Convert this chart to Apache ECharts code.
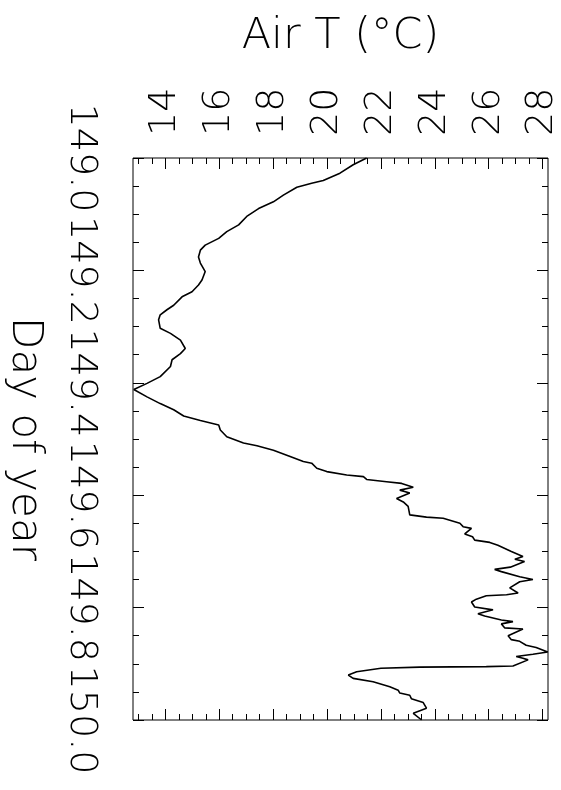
<!DOCTYPE html>
<html>
<head>
<meta charset="utf-8">
<script src="https://cdn.jsdelivr.net/npm/echarts@6/dist/echarts.min.js"></script>
<style>
html,body{margin:0;padding:0;background:#fff;}
#chart{width:561px;height:790px;}
</style>
</head>
<body>
<div id="chart"></div>
<script>
// Day of year (vertical axis) and air temperature (horizontal axis)
const dayOfYear = [
149.000,149.012,149.027,149.040,149.045,149.052,149.066,149.078,149.090,149.104,
149.119,149.131,149.143,149.155,149.164,149.176,149.187,149.202,149.217,149.226,
149.238,149.247,149.262,149.270,149.279,149.288,149.303,149.312,149.324,149.339,
149.348,149.359,149.371,149.389,149.401,149.412,149.425,149.437,149.448,149.459,
149.467,149.475,149.484,149.496,149.507,149.512,149.520,149.531,149.540,149.543,
149.552,149.558,149.564,149.567,149.572,149.576,149.579,149.586,149.591,149.596,
149.606,149.612,149.620,149.635,149.639,149.641,149.650,149.656,149.659,149.669,
149.674,149.680,149.684,149.689,149.700,149.709,149.714,149.718,149.728,149.732,
149.736,149.745,149.750,149.754,149.765,149.774,149.777,149.779,149.785,149.790,
149.799,149.804,149.811,149.815,149.822,149.825,149.829,149.836,149.838,149.850,
149.857,149.860,149.867,149.871,149.879,149.883,149.887,149.890,149.893,149.904,
149.905,149.906,149.908,149.914,149.920,149.926,149.932,149.941,149.947,149.952,
149.956,149.962,149.969,149.979,149.988,150.000
];
const airTemp = [
21.47,20.97,20.48,19.86,19.43,18.88,18.38,18.01,17.46,17.02,
16.72,16.28,15.98,15.48,15.30,15.23,15.30,15.48,15.36,15.23,
14.99,14.62,14.31,14.06,13.81,13.75,13.81,14.19,14.56,14.74,
14.56,14.25,14.19,13.81,13.32,12.83,13.32,13.81,14.31,14.68,
15.30,15.98,16.04,16.28,16.90,17.40,18.01,18.63,19.12,19.43,
19.62,19.99,20.73,21.35,21.47,22.21,22.77,23.20,22.70,23.07,
22.58,22.83,23.01,23.07,23.69,24.31,24.93,25.05,25.36,25.11,
25.40,25.48,26.04,26.34,26.84,27.27,26.97,27.33,26.80,26.22,
26.47,27.15,27.64,27.15,26.78,27.09,26.66,25.91,25.54,25.36,
25.48,26.16,25.60,25.85,26.47,26.90,26.47,26.59,27.27,26.72,
26.84,27.15,27.39,27.76,28.19,27.64,27.02,27.27,27.46,26.90,
25.91,23.44,22.00,21.10,20.79,20.97,21.71,22.33,22.64,22.70,
23.07,23.13,23.57,23.69,23.20,23.51
];
const tempTicks = [14,16,18,20,22,24,26,28];
const tempMinorTicks = [13,13.5,14.5,15,15.5,16.5,17,17.5,18.5,19,19.5,20.5,21,21.5,22.5,23,23.5,24.5,25,25.5,26.5,27,27.5];
const dayTicks = [149.0,149.2,149.4,149.6,149.8,150.0];
const dayMinorTicks = [149.05,149.1,149.15,149.25,149.3,149.35,149.45,149.5,149.55,149.65,149.7,149.75,149.85,149.9,149.95];

const FONT = 'DejaVu Sans';
const lineData = dayOfYear.map((d,i)=>[airTemp[i], d]);

function xAx(pos, values, len, labels, name){
  return {
    type:'value', position:pos, min:12.8, max:28.2,
    axisLine:{show:false}, splitLine:{show:false},
    axisTick:{show:true, inside:true, length:len, customValues:values, lineStyle:{color:'#000',width:1}},
    axisLabel:{show:labels, customValues:values, rotate:-90, margin:22,
      fontFamily:FONT, fontWeight:200, fontSize:38, color:'#000'},
    name: name||'', nameLocation:'middle', nameGap:100,
    nameTextStyle:{fontFamily:FONT, fontWeight:200, fontSize:43, color:'#000'}
  };
}
function yAx(pos, values, len, labels, name){
  return {
    type:'value', position:pos, min:149, max:150, inverse:true,
    axisLine:{show:false}, splitLine:{show:false},
    axisTick:{show:true, inside:true, length:len, customValues:values, lineStyle:{color:'#000',width:1}},
    axisLabel:{show:labels, customValues:values, rotate:-90, margin:33,
      formatter:v=>Number(v).toFixed(1),
      fontFamily:FONT, fontWeight:200, fontSize:38, color:'#000'},
    name: name||'', nameLocation:'middle', nameGap:88, nameRotate:-90,
    nameTextStyle:{fontFamily:FONT, fontWeight:200, fontSize:42, color:'#000'}
  };
}

const chart = echarts.init(document.getElementById('chart'), null, {renderer:'canvas'});
chart.setOption({
  backgroundColor:'#fff',
  animation:false,
  grid:{left:133, right:13, top:158, bottom:70, containLabel:false, outerBoundsMode:'none',
    show:true, borderColor:'#000', borderWidth:1, backgroundColor:'transparent'},
  xAxis:[
    xAx('top', tempTicks, 11, true, 'Air T (°C)'),
    xAx('top', tempMinorTicks, 6, false),
    xAx('bottom', tempTicks, 11, false),
    xAx('bottom', tempMinorTicks, 6, false)
  ],
  yAxis:[
    yAx('left', dayTicks, 11, true, 'Day of year'),
    yAx('left', dayMinorTicks, 6, false),
    yAx('right', dayTicks, 11, false),
    yAx('right', dayMinorTicks, 6, false)
  ],
  series:[{
    type:'line', xAxisIndex:0, yAxisIndex:0, data:lineData,
    showSymbol:false, symbol:'none', smooth:false,
    lineStyle:{color:'#000', width:1.6}
  }]
});
</script>
</body>
</html>
